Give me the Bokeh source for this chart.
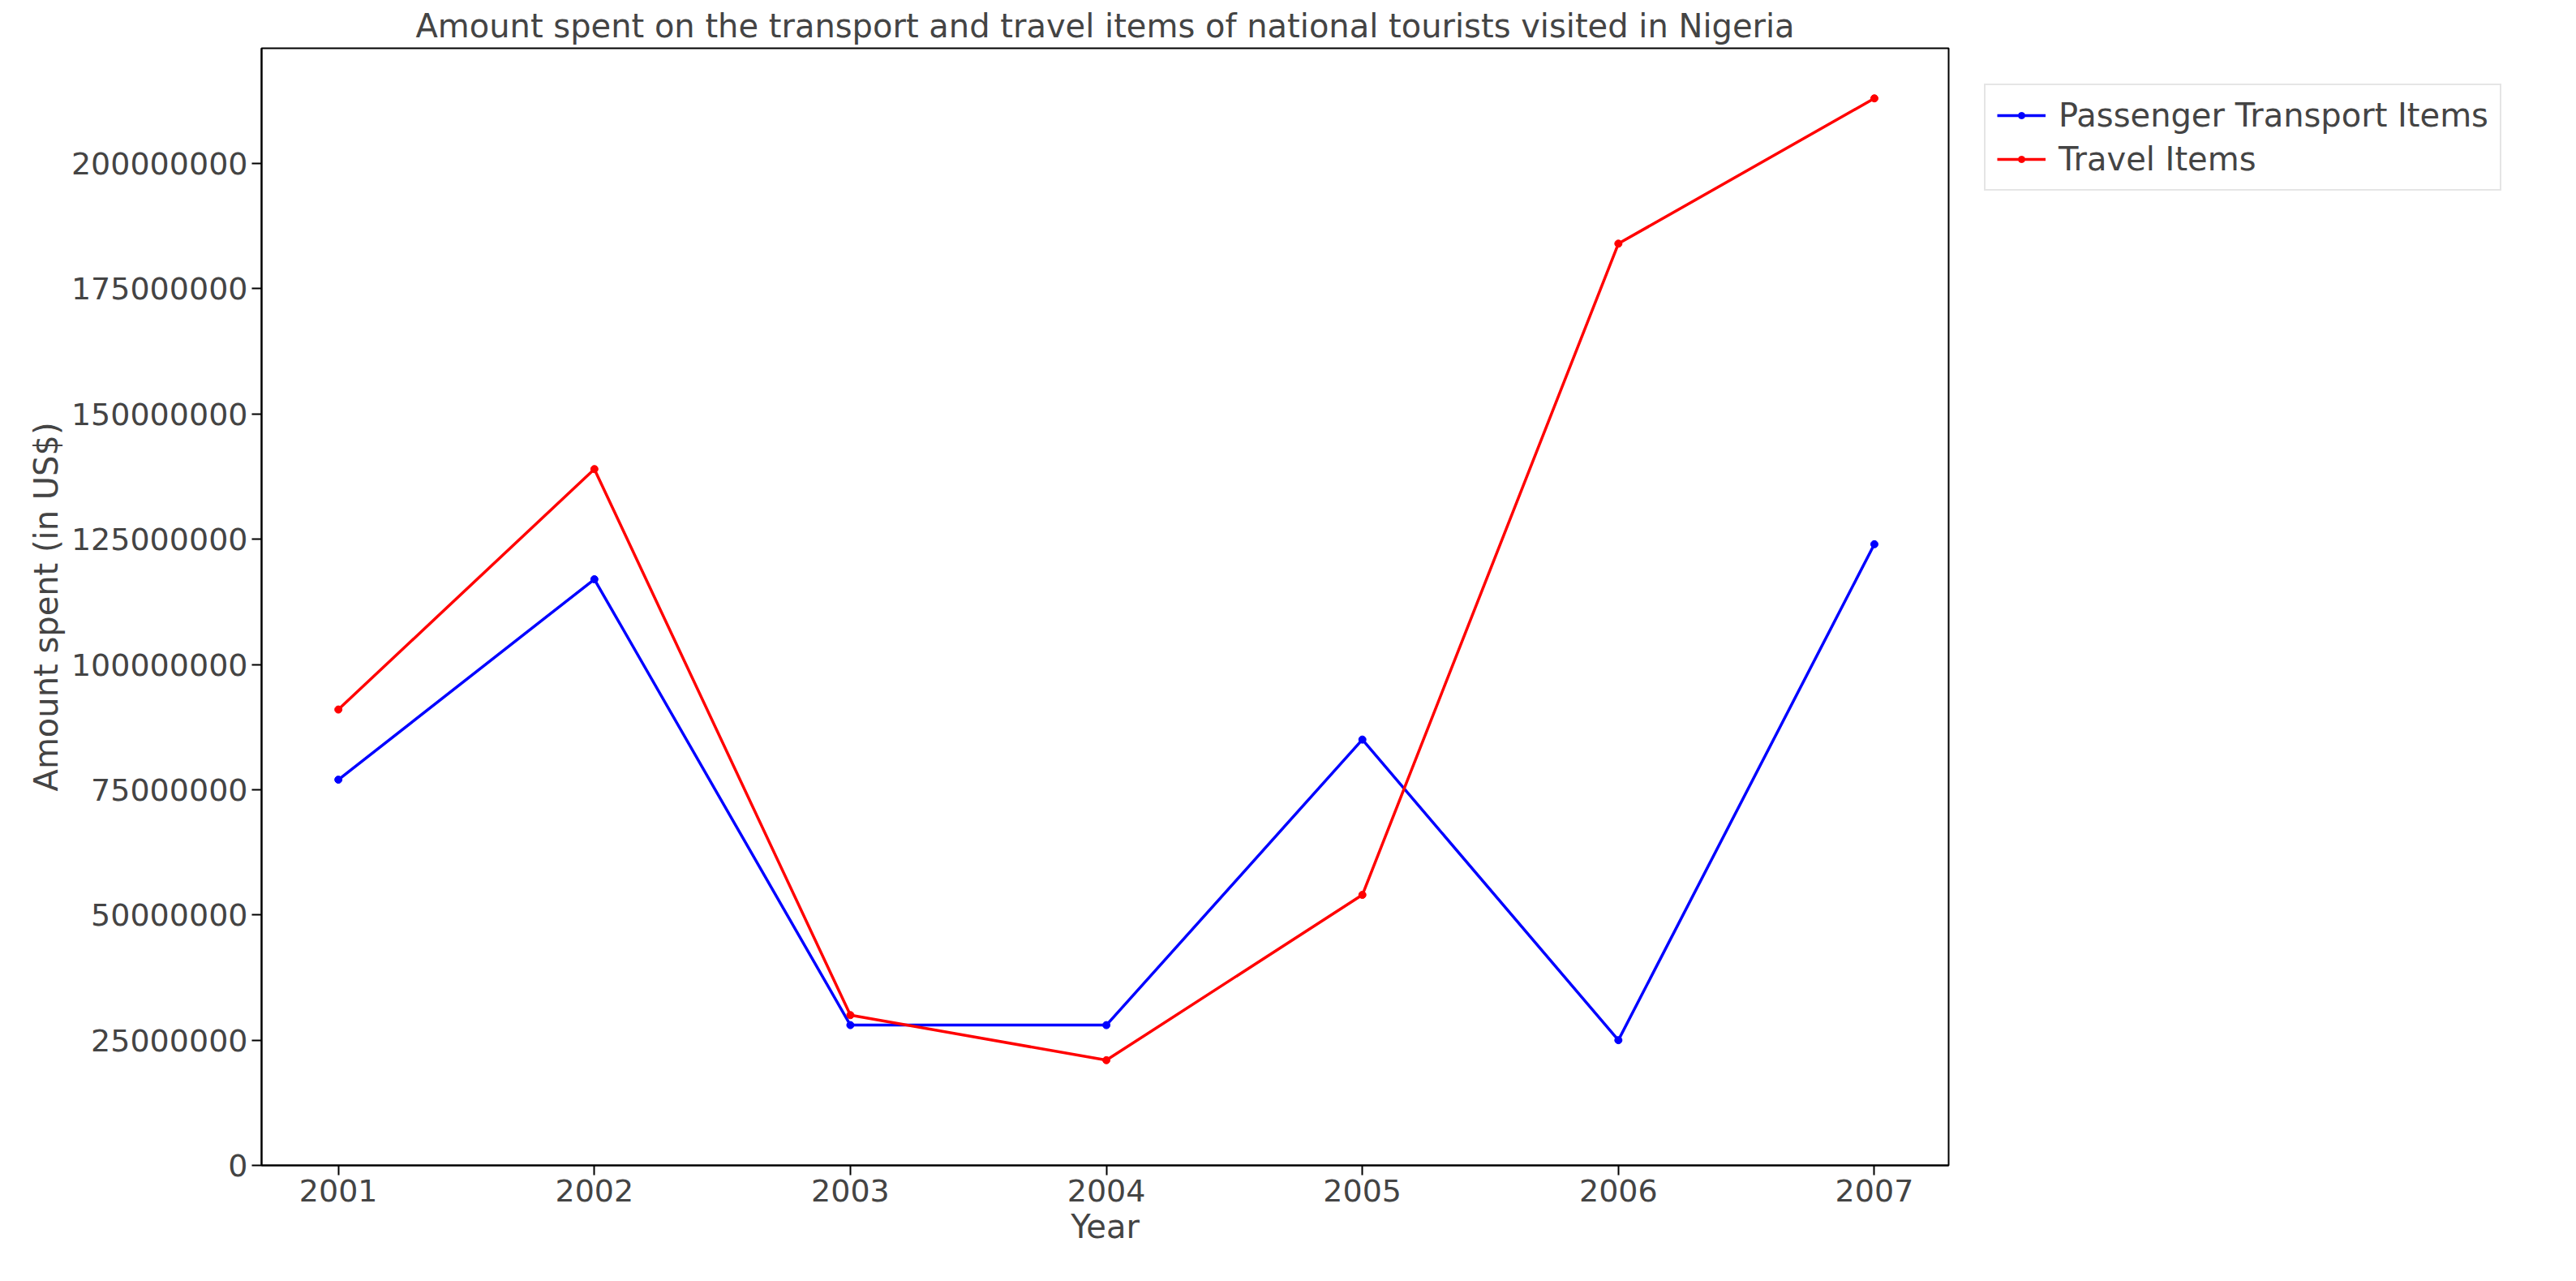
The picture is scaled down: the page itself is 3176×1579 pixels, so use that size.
from bokeh.plotting import figure
from bokeh.models import Legend, LegendItem, Range1d, FixedTicker, NumeralTickFormatter
from bokeh.embed import file_html
from bokeh.resources import INLINE

years = [2001, 2002, 2003, 2004, 2005, 2006, 2007]
passenger = [77e6, 117e6, 28e6, 28e6, 85e6, 25e6, 124e6]
travel = [91e6, 139e6, 30e6, 21e6, 54e6, 184e6, 213e6]
yticks = [0, 25e6, 50e6, 75e6, 100e6, 125e6, 150e6, 175e6, 200e6]

p = figure(frame_width=2080, frame_height=1377, output_backend="svg", toolbar_location=None,
           x_range=Range1d(2000.70, 2007.29), y_range=Range1d(0, 223e6),
           title="Amount spent on the transport and travel items of national tourists visited in Nigeria",
           min_border_left=322, min_border_top=59, min_border_bottom=120, min_border_right=740)
p.title.align = "center"
p.title.text_font_size = "40px"
p.title.text_font_style = "normal"
p.title.text_font = "DejaVu Sans"
p.xgrid.visible = False
p.ygrid.visible = False
p.outline_line_color = "black"
p.outline_line_width = 2
p.xaxis.ticker = FixedTicker(ticks=years)
p.yaxis.ticker = FixedTicker(ticks=yticks)
p.yaxis.formatter = NumeralTickFormatter(format="0")
p.xaxis.axis_label = "Year"
p.yaxis.axis_label = "Amount spent (in US$)"
for ax in (p.xaxis[0], p.yaxis[0]):
    ax.major_label_text_font_size = "38px"
    ax.major_label_text_font = "DejaVu Sans"
    ax.axis_label_text_font_size = "40px"
    ax.axis_label_text_font = "DejaVu Sans"
    ax.axis_label_text_font_style = "normal"
    ax.major_tick_out = 12
    ax.major_tick_in = 0
    ax.minor_tick_out = 0
    ax.minor_tick_in = 0
    ax.axis_line_width = 2
    ax.major_tick_line_width = 2

l1 = p.line(years, passenger, color="blue", line_width=3.5)
s1 = p.scatter(years, passenger, color="blue", size=9)
l2 = p.line(years, travel, color="red", line_width=3.5)
s2 = p.scatter(years, travel, color="red", size=9)

legend = Legend(items=[LegendItem(label="Passenger Transport Items", renderers=[l1, s1]),
                       LegendItem(label="Travel Items", renderers=[l2, s2])],
                location="top_left", label_text_font_size="40px", label_text_font="DejaVu Sans",
                border_line_color="#cccccc", border_line_width=2, glyph_width=60,
                margin=44, padding=14, spacing=8, label_standoff=16)
p.add_layout(legend, "right")

open("out.html", "w").write(file_html(p, INLINE))
